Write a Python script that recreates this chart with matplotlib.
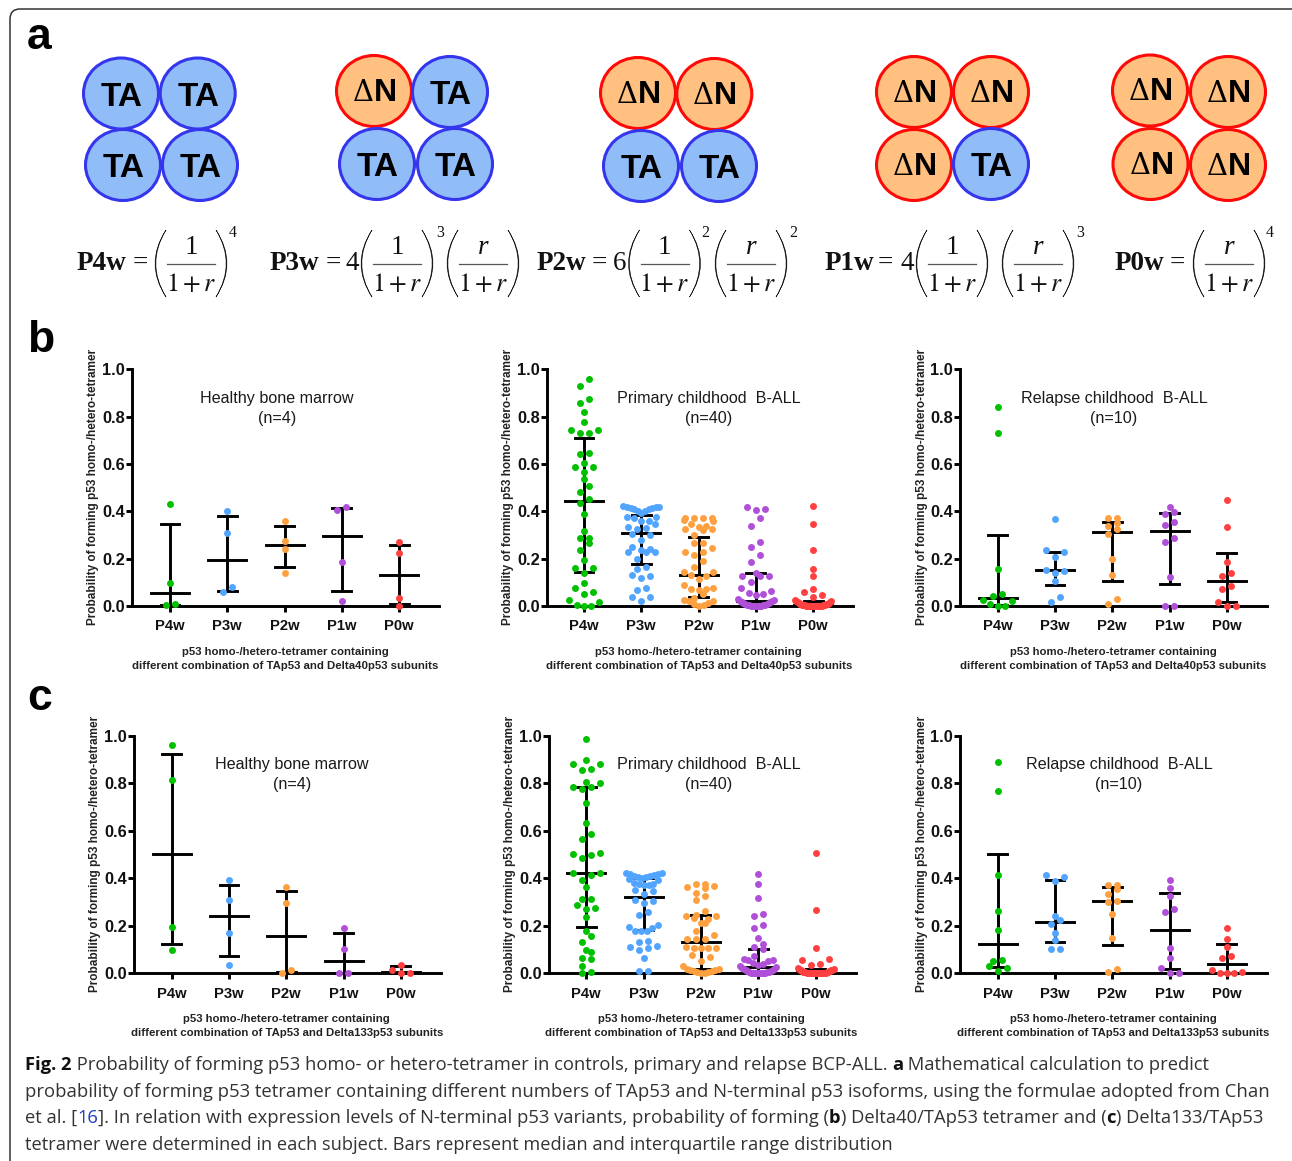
import matplotlib
matplotlib.use("Agg")
import matplotlib.pyplot as plt
from matplotlib.patches import Ellipse, FancyBboxPatch, PathPatch
from matplotlib.path import Path

plt.rcParams["font.family"] = ["Liberation Sans", "DejaVu Sans"]
plt.rcParams["mathtext.fontset"] = "stix"

W, H = 1292, 1161
DPI = 100

CATEGORIES = ["P4w", "P3w", "P2w", "P1w", "P0w"]
YTICKS = [0.0, 0.2, 0.4, 0.6, 0.8, 1.0]
COLORS = ["#00C000", "#52A5FF", "#FFA040", "#B050D8", "#FF4040"]
YLABEL = "Probability of forming p53 homo-/hetero-tetramer"

# ── values ──────────────────────────────────────────────────────────────────

b_healthy = [
    [0.43, 0.096, 0.005, 0.008],
    [0.40, 0.307, 0.08, 0.06],
    [0.36, 0.273, 0.24, 0.14],
    [0.417, 0.405, 0.187, 0.02],
    [0.27, 0.223, 0.034, 0.0],
]
b_healthy_stats = [  # median, q1, q3
    [0.053, 0.005, 0.347],
    [0.195, 0.065, 0.38],
    [0.256, 0.166, 0.34],
    [0.297, 0.062, 0.413],
    [0.13, 0.008, 0.258],
]

b_primary = [
    [0.958, 0.931, 0.873, 0.859, 0.818, 0.779, 0.744, 0.744, 0.732, 0.732,
     0.645, 0.641, 0.603, 0.586, 0.586, 0.568, 0.537, 0.507, 0.48, 0.454,
     0.437, 0.389, 0.317, 0.286, 0.286, 0.265, 0.237, 0.193, 0.159, 0.159,
     0.141, 0.097, 0.077, 0.061, 0.049, 0.025, 0.017, 0.006, 0.0, 0.0],
    [0.422, 0.42, 0.42, 0.418, 0.416, 0.413, 0.41, 0.41, 0.40, 0.40,
     0.395, 0.375, 0.375, 0.37, 0.36, 0.357, 0.345, 0.335, 0.33, 0.325,
     0.305, 0.30, 0.28, 0.25, 0.24, 0.237, 0.23, 0.228, 0.228, 0.20,
     0.165, 0.157, 0.133, 0.128, 0.12, 0.077, 0.066, 0.04, 0.038, 0.022],
    [0.373, 0.373, 0.373, 0.372, 0.363, 0.36, 0.348, 0.337, 0.333, 0.325,
     0.322, 0.325, 0.298, 0.265, 0.265, 0.245, 0.23, 0.23, 0.215, 0.19,
     0.165, 0.145, 0.145, 0.13, 0.128, 0.115, 0.088, 0.077, 0.07, 0.07,
     0.068, 0.05, 0.035, 0.025, 0.022, 0.02, 0.012, 0.01, 0.005, 0.0],
    [0.42, 0.41, 0.405, 0.37, 0.34, 0.27, 0.248, 0.217, 0.188, 0.14,
     0.127, 0.125, 0.125, 0.10, 0.075, 0.062, 0.055, 0.05, 0.045, 0.03,
     0.025, 0.022, 0.02, 0.018, 0.016, 0.014, 0.012, 0.01, 0.008, 0.006,
     0.005, 0.004, 0.003, 0.002, 0.001, 0.0, 0.0, 0.0, 0.0, 0.0],
    [0.423, 0.347, 0.235, 0.157, 0.125, 0.072, 0.06, 0.048, 0.036, 0.025,
     0.022, 0.02, 0.018, 0.016, 0.014, 0.012, 0.01, 0.009, 0.008, 0.007,
     0.006, 0.005, 0.004, 0.004, 0.003, 0.003, 0.002, 0.002, 0.001, 0.001,
     0.001, 0.0, 0.0, 0.0, 0.0, 0.0, 0.0, 0.0, 0.0, 0.0],
]
b_primary_stats = [
    [0.445, 0.144, 0.711],
    [0.307, 0.176, 0.385],
    [0.131, 0.036, 0.29],
    [0.022, 0.0, 0.138],
    [0.005, 0.0, 0.022],
]

b_relapse = [
    [0.842, 0.73, 0.156, 0.05, 0.043, 0.024, 0.022, 0.01, 0.0, 0.002],
    [0.368, 0.237, 0.227, 0.208, 0.152, 0.149, 0.141, 0.105, 0.04, 0.017],
    [0.37, 0.37, 0.352, 0.338, 0.324, 0.303, 0.197, 0.13, 0.028, 0.007],
    [0.42, 0.397, 0.389, 0.354, 0.342, 0.289, 0.272, 0.124, 0.0, 0.0],
    [0.446, 0.332, 0.185, 0.138, 0.127, 0.083, 0.073, 0.017, 0.0, 0.0],
]
b_relapse_stats = [
    [0.035, 0.005, 0.30],
    [0.15, 0.088, 0.23],
    [0.314, 0.105, 0.353],
    [0.316, 0.094, 0.392],
    [0.107, 0.015, 0.224],
]

c_healthy = [
    [0.96, 0.815, 0.194, 0.098],
    [0.393, 0.308, 0.171, 0.037],
    [0.365, 0.298, 0.013, 0.0],
    [0.191, 0.101, 0.0, 0.0],
    [0.036, 0.012, 0.0, 0.0],
]
c_healthy_stats = [
    [0.503, 0.124, 0.924],
    [0.24, 0.072, 0.372],
    [0.156, 0.004, 0.348],
    [0.05, 0.0, 0.17],
    [0.007, 0.0, 0.03],
]

c_primary = [
    [0.987, 0.897, 0.883, 0.883, 0.86, 0.855, 0.808, 0.80, 0.785, 0.785,
     0.777, 0.718, 0.633, 0.587, 0.565, 0.508, 0.501, 0.497, 0.487, 0.424,
     0.423, 0.416, 0.395, 0.362, 0.315, 0.313, 0.288, 0.275, 0.272, 0.239,
     0.178, 0.156, 0.133, 0.097, 0.09, 0.066, 0.06, 0.032, 0.006, 0.0],
    [0.423, 0.422, 0.42, 0.418, 0.415, 0.412, 0.41, 0.405, 0.405, 0.402,
     0.398, 0.395, 0.38, 0.378, 0.375, 0.373, 0.37, 0.35, 0.345, 0.333,
     0.31, 0.305, 0.297, 0.257, 0.245, 0.202, 0.195, 0.19, 0.18, 0.178,
     0.178, 0.135, 0.13, 0.113, 0.11, 0.105, 0.097, 0.063, 0.01, 0.01],
    [0.375, 0.375, 0.367, 0.365, 0.36, 0.34, 0.325, 0.31, 0.262, 0.245,
     0.24, 0.24, 0.232, 0.23, 0.213, 0.21, 0.18, 0.16, 0.145, 0.145,
     0.145, 0.11, 0.108, 0.108, 0.105, 0.105, 0.078, 0.07, 0.053, 0.03,
     0.018, 0.017, 0.015, 0.012, 0.01, 0.008, 0.006, 0.004, 0.002, 0.0],
    [0.417, 0.375, 0.318, 0.25, 0.24, 0.203, 0.19, 0.148, 0.125, 0.11,
     0.103, 0.075, 0.06, 0.058, 0.055, 0.05, 0.045, 0.04, 0.035, 0.03,
     0.025, 0.022, 0.02, 0.018, 0.015, 0.012, 0.01, 0.008, 0.006, 0.005,
     0.004, 0.003, 0.002, 0.001, 0.0, 0.0, 0.0, 0.0, 0.0, 0.0],
    [0.505, 0.265, 0.105, 0.062, 0.057, 0.038, 0.035, 0.022, 0.02, 0.018,
     0.016, 0.015, 0.014, 0.012, 0.01, 0.01, 0.008, 0.007, 0.006, 0.005,
     0.004, 0.004, 0.003, 0.003, 0.002, 0.002, 0.001, 0.001, 0.001, 0.0,
     0.0, 0.0, 0.0, 0.0, 0.0, 0.0, 0.0, 0.0, 0.0, 0.0],
]
c_primary_stats = [
    [0.424, 0.194, 0.784],
    [0.322, 0.183, 0.40],
    [0.13, 0.02, 0.247],
    [0.025, 0.0, 0.103],
    [0.012, 0.0, 0.018],
]

c_relapse = [
    [0.892, 0.768, 0.413, 0.261, 0.183, 0.058, 0.05, 0.03, 0.021, 0.011],
    [0.416, 0.407, 0.388, 0.242, 0.226, 0.208, 0.171, 0.139, 0.103, 0.103],
    [0.374, 0.373, 0.355, 0.336, 0.306, 0.299, 0.249, 0.15, 0.02, 0.004],
    [0.392, 0.358, 0.327, 0.272, 0.257, 0.107, 0.065, 0.024, 0.0, 0.0],
    [0.192, 0.143, 0.112, 0.073, 0.066, 0.012, 0.005, 0.0, 0.0, 0.0],
]
c_relapse_stats = [
    [0.122, 0.028, 0.503],
    [0.218, 0.132, 0.393],
    [0.303, 0.119, 0.362],
    [0.183, 0.02, 0.337],
    [0.04, 0.0, 0.124],
]

D40_LABEL = ["p53 homo-/hetero-tetramer containing",
             "different combination of TAp53 and Delta40p53 subunits"]
D133_LABEL = ["p53 homo-/hetero-tetramer containing",
              "different combination of TAp53 and Delta133p53 subunits"]

# axis_x, end_x, first_cat_x, y0, y1, ylabel_x, title_x, title_y, xlabel_x, xlabel_y, line 1, line 2, data, stats, xlabel
PANELS = [
    (132, 439, 170, 606, 369.3, 93.5, 276.7, 398, 285.4, 652, "Healthy bone marrow", "(n=4)", b_healthy, b_healthy_stats, D40_LABEL),
    (546.7, 853, 584, 606, 369.3, 508.5, 709, 398, 698.8, 652, "Primary childhood  B-ALL", "(n=40)", b_primary, b_primary_stats, D40_LABEL),
    (960, 1267, 997.7, 606, 369.3, 921.5, 1114, 398, 1113, 652, "Relapse childhood  B-ALL", "(n=10)", b_relapse, b_relapse_stats, D40_LABEL),
    (134, 440.7, 171.7, 973.3, 736, 95.5, 292, 765, 286.8, 1019, "Healthy bone marrow", "(n=4)", c_healthy, c_healthy_stats, D133_LABEL),
    (549, 856, 586.3, 973.3, 736, 510.5, 709, 765, 701.3, 1019, "Primary childhood  B-ALL", "(n=40)", c_primary, c_primary_stats, D133_LABEL),
    (960, 1267, 997.7, 973.3, 736, 922.5, 1119, 765, 1113, 1019, "Relapse childhood  B-ALL", "(n=10)", c_relapse, c_relapse_stats, D133_LABEL),
]

CAT_PX = 57.3
DOT_STEP = 9.0 / CAT_PX
BIN_H = 0.03
LW = 2.1

# ── panel a schematic ───────────────────────────────────────────────────────

# kind, centre x, centre y
SUBUNITS = [
    ("TA", 121, 93.5), ("TA", 197.7, 93.5), ("TA", 123, 165), ("TA", 200, 165),
    ("dN", 374, 91), ("TA", 450, 92), ("TA", 377, 164), ("TA", 455, 164),
    ("dN", 638, 93), ("dN", 714.3, 94), ("TA", 641, 166), ("TA", 719, 166),
    ("dN", 914, 92), ("dN", 991, 92), ("dN", 914, 165), ("TA", 991, 164),
    ("dN", 1150, 90.5), ("dN", 1228, 92), ("dN", 1150.5, 164), ("dN", 1228, 165),
]

# label, label x, "=" x, coefficient, coefficient x, [(numerator, fraction x, exponent, exponent x)]
FORMULAS = [
    ("P4w", 77, 140, "", 0, [("1", 191, "4", 233)]),
    ("P3w", 269.5, 333, "4", 352.5, [("1", 397, "3", 440), ("r", 483, "", 0)]),
    ("P2w", 537, 599, "6", 620, [("1", 664.5, "2", 705), ("r", 751, "2", 793)]),
    ("P1w", 825, 885, "4", 907.5, [("1", 952, "", 0), ("r", 1038, "3", 1080)]),
    ("P0w", 1114.6, 1177, "", 0, [("r", 1229, "4", 1270)]),
]

CAPTION = [
    [("Fig. 2", "b"), (" Probability of forming p53 homo- or hetero-tetramer in controls, primary and relapse BCP-ALL. ", "n"),
     ("a", "b"), (" Mathematical calculation to predict", "n")],
    [("probability of forming p53 tetramer containing different numbers of TAp53 and N-terminal p53 isoforms, using the formulae adopted from Chan", "n")],
    [("et al. [", "n"), ("16", "l"), ("]. In relation with expression levels of N-terminal p53 variants, probability of forming (", "n"),
     ("b", "b"), (") Delta40/TAp53 tetramer and (", "n"), ("c", "b"), (") Delta133/TAp53", "n")],
    [("tetramer were determined in each subject. Bars represent median and interquartile range distribution", "n")],
]
CAPTION_Y = [1070, 1097, 1123, 1150]
CAPTION_SIZE = [13.28, 13.3, 13.25, 13.13]


def swarm(values):
    """Prism style layout: bin by height, spread each bin symmetrically."""
    vals = sorted(values)
    xs, ys = [], []
    i = 0
    while i < len(vals):
        j = i
        while j < len(vals) and vals[j] - vals[i] <= BIN_H:
            j += 1
        row = vals[i:j]
        n = len(row)
        limit = (18.0 if n > 8 else 14.7) / CAT_PX
        step = DOT_STEP
        if n > 1 and (n - 1) / 2 * step > limit:
            step = 2 * limit / (n - 1)
        offs = [(k - (n - 1) / 2) * step for k in range(n)]
        if n % 2:
            offs.sort(key=lambda o: (round(abs(o), 6), -o))
        else:
            offs.sort(key=lambda o: (round(abs(o), 6), o))
        xs.append(offs)
        ys.append(row)
        i = j
    return [x for r in xs for x in r], [y for r in ys for y in r]


def draw_panel(fig, bg, cfg):
    axis_x, end_x, cat_x, y0, y1, ylab_x, t_x, t_y, xl_x, xl_y, t1, t2, data, stats, xlabel = cfg
    ax = fig.add_axes([axis_x / W, 1 - y0 / H, (end_x - axis_x) / W, (y0 - y1) / H])
    ax.patch.set_alpha(0)
    ax.set_xlim(-(cat_x - axis_x) / CAT_PX, (end_x - cat_x) / CAT_PX)
    ax.set_ylim(0, 1)

    for i, (vals, st) in enumerate(zip(data, stats)):
        med, q1, q3 = st
        ax.plot([i, i], [q1, q3], color="k", lw=LW, zorder=3, solid_capstyle="butt", clip_on=False)
        ax.plot([i - 0.33, i + 0.33], [med, med], color="k", lw=LW, zorder=3, clip_on=False)
        for q in (q1, q3):
            ax.plot([i - 0.165, i + 0.165], [q, q], color="k", lw=LW, zorder=3, clip_on=False)
        off, ys = swarm(vals)
        ax.scatter([i + o for o in off], ys, s=25, color=COLORS[i], linewidths=0, zorder=5, clip_on=False)

    ax.spines[["top", "right"]].set_visible(False)
    ax.spines[["left", "bottom"]].set_linewidth(LW)
    ax.set_xticks(range(5))
    ax.set_xticklabels(CATEGORIES, fontsize=10.6, fontweight="bold", color="#111111")
    ax.set_yticks(YTICKS)
    ax.set_yticklabels([f"{v:.1f}" for v in YTICKS], fontsize=11.8, fontweight="bold", color="#111111")
    ax.tick_params(axis="y", length=4.5, width=LW, pad=0.5)
    ax.tick_params(axis="x", length=4.5, width=LW, pad=5.2)

    bg.text(ylab_x, (y0 + y1) / 2 - 0.5, YLABEL, rotation=90, ha="center", va="center",
            fontsize=8.45, fontweight="bold", color="#222222")
    bg.text(t_x, t_y, t1, ha="center", va="center", fontsize=11.6, color="#1a1a1a")
    bg.text(t_x, t_y + 20, t2, ha="center", va="center", fontsize=11.6, color="#1a1a1a")
    bg.text(xl_x, xl_y, xlabel[0], ha="center", va="center", fontsize=8.2, fontweight="bold", color="#222222")
    bg.text(xl_x, xl_y + 14, xlabel[1], ha="center", va="center", fontsize=8.2, fontweight="bold", color="#222222")


def paren(bg, x_tip, x_bulge):
    """Big crescent bracket from top to bottom of the formula row."""
    top, bot, mid = 230, 297, 263.5
    thick = 1.6 if x_bulge < x_tip else -1.6
    verts = [(x_tip, top), (x_bulge * 2 - x_tip, mid), (x_tip, bot),
             (x_bulge * 2 - x_tip + thick, mid), (x_tip, top)]
    codes = [Path.MOVETO, Path.CURVE3, Path.CURVE3, Path.CURVE3, Path.CURVE3]
    bg.add_patch(PathPatch(Path(verts, codes), facecolor="#111111", edgecolor="#111111", linewidth=0.4))


def draw_formula(bg, label, label_x, eq_x, coef, coef_x, groups):
    serif = dict(family=["Liberation Serif"], color="#111111")
    bg.text(label_x, 270, label, ha="left", va="baseline", fontsize=19.5, fontweight="bold", **serif)
    bg.text(eq_x, 270, "=", ha="center", va="baseline", fontsize=19.5, **serif)
    if coef:
        bg.text(coef_x, 270, coef, ha="center", va="baseline", fontsize=19.5, **serif)
    for num, fx, exp, ex in groups:
        paren(bg, fx - 25, fx - 36)
        paren(bg, fx + 25, fx + 36)
        bg.plot([fx - 24, fx + 24], [263.5, 263.5], color="#555555", lw=0.9, zorder=2)
        if num == "r":
            bg.text(fx, 254, num, ha="center", va="baseline", fontsize=19.5, fontstyle="italic", **serif)
        else:
            bg.text(fx, 254, num, ha="center", va="baseline", fontsize=19.5, **serif)
        bg.text(fx, 291, "$1+r$", ha="center", va="baseline", fontsize=18.5, color="#111111")
        if exp:
            bg.text(ex, 233, exp, ha="center", va="center", fontsize=11.5, **serif)


def draw_schematic(bg):
    for kind, x, y in SUBUNITS:
        ta = kind == "TA"
        bg.add_patch(Ellipse((x, y), 75, 71, facecolor="#90BDF8" if ta else "#FFC080",
                             edgecolor="#3535EE" if ta else "#FF0808", linewidth=2.2, zorder=2))
        if ta:
            bg.text(x + 1, y + 12, "TA", ha="center", va="baseline", fontsize=24, fontweight="bold", zorder=3)
        else:
            bg.text(x, y + 10, "Δ", ha="right", va="baseline", fontsize=21, family=["DejaVu Serif"], zorder=3)
            bg.text(x, y + 10, "N", ha="left", va="baseline", fontsize=23, fontweight="bold", zorder=3)
    for f in FORMULAS:
        draw_formula(bg, *f)


def draw_caption(fig, bg):
    r = fig.canvas.get_renderer()
    fonts = {"n": dict(color="#333333"), "b": dict(color="#111111", fontweight="bold"), "l": dict(color="#2040C0")}
    for line, y, size in zip(CAPTION, CAPTION_Y, CAPTION_SIZE):
        x = 25.0
        for txt, kind in line:
            bg.text(x, y, txt, ha="left", va="baseline", fontsize=size, family=["Open Sans"], **fonts[kind])
            # spaces at the ends do not count in the extent, so measure them apart
            ext = bg.text(0, 0, txt.replace(" ", "\u00a0"), fontsize=size, family=["Open Sans"], **fonts[kind])
            x += ext.get_window_extent(r).width
            ext.remove()


def main():
    fig = plt.figure(figsize=(W / DPI, H / DPI), dpi=DPI)
    bg = fig.add_axes([0, 0, 1, 1], zorder=-1)
    bg.axis("off")

    bg.add_patch(FancyBboxPatch((18, 17), W + 40, H + 80, boxstyle="round,pad=8,rounding_size=10",
                                facecolor="white", edgecolor="#333333", linewidth=1.1))
    for letter, y in (("a", 49), ("b", 352), ("c", 710)):
        bg.text(27, y, letter, ha="left", va="baseline", fontsize=32, fontweight="bold")

    draw_schematic(bg)
    bg.set_xlim(0, W)
    bg.set_ylim(H, 0)
    for cfg in PANELS:
        draw_panel(fig, bg, cfg)
    draw_caption(fig, bg)

    fig.savefig("out.png", dpi=DPI)


if __name__ == "__main__":
    main()
